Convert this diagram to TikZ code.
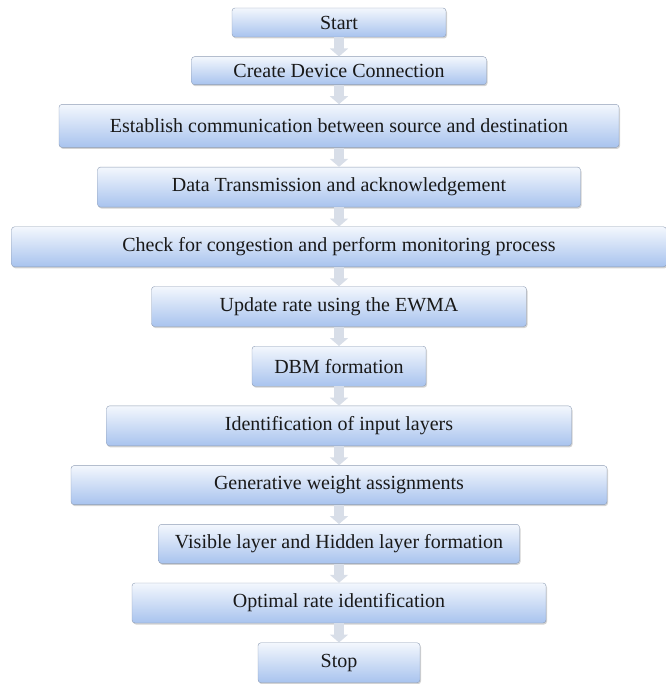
\documentclass[tikz,border=0pt]{standalone}
\usepackage{fontspec}
\setmainfont{Liberation Serif}
\usepackage{tikz}
\usetikzlibrary{arrows.meta}
\usetikzlibrary{positioning}
\usetikzlibrary{shadows}
\definecolor{boxtop}{HTML}{F3F7FD}
\definecolor{boxbot}{HTML}{A8C3EE}
\definecolor{boxline}{HTML}{8E9DB5}
\definecolor{flowgray}{HTML}{D8DEE8}
\tikzstyle{block}=[draw=boxline,thin,rounded corners=3pt,top color=boxtop,bottom color=boxbot,minimum height=40pt,inner sep=0pt,text=black!90,font=\fontsize{20}{23}\selectfont,drop shadow={shadow xshift=1pt,shadow yshift=-1.5pt,opacity=0.35}]
\tikzstyle{flow}=[line width=10pt,draw=flowgray,-{Triangle[width=18pt,length=8pt]}]

\begin{document}
\begin{tikzpicture}
\useasboundingbox (0pt,0pt) rectangle (665pt,-684pt);
\node [block,minimum width=214pt,minimum height=29pt] (start) at (339pt,-22.5pt) {Start};
\node [block,minimum width=295pt,minimum height=28pt,below=19.3pt of start] (conn) {Create Device Connection};
\node [block,minimum width=560pt,minimum height=43pt,below=19.3pt of conn] (comm) {Establish communication\ between source and destination};
\node [block,minimum width=483pt,below=19.3pt of comm] (data) {Data Transmission and acknowledgement};
\node [block,minimum width=655pt,below=19.3pt of data] (check) {Check for congestion\ and\ perform monitoring process};
\node [block,minimum width=375pt,below=19.3pt of check] (ewma) {Update rate using the EWMA};
\node [block,minimum width=174pt,below=19.3pt of ewma] (dbm) {DBM formation};
\node [block,minimum width=465pt,below=19.3pt of dbm] (input) {Identification\ of input layers};
\node [block,minimum width=536pt,minimum height=39pt,below=19.3pt of input] (weight) {Generative weight assignments};
\node [block,minimum width=361pt,minimum height=39pt,below=19.3pt of weight] (hidden) {Visible layer and Hidden layer formation};
\node [block,minimum width=414pt,below=19.3pt of hidden] (rate) {Optimal\ rate identification};
\node [block,minimum width=162pt,below=19.3pt of rate] (stop) {Stop};

\draw[flow] (start) -- (conn);
\draw[flow] (conn) -- (comm);
\draw[flow] (comm) -- (data);
\draw[flow] (data) -- (check);
\draw[flow] (check) -- (ewma);
\draw[flow] (ewma) -- (dbm);
\draw[flow] (dbm) -- (input);
\draw[flow] (input) -- (weight);
\draw[flow] (weight) -- (hidden);
\draw[flow] (hidden) -- (rate);
\draw[flow] (rate) -- (stop);
\end{tikzpicture}
\end{document}
